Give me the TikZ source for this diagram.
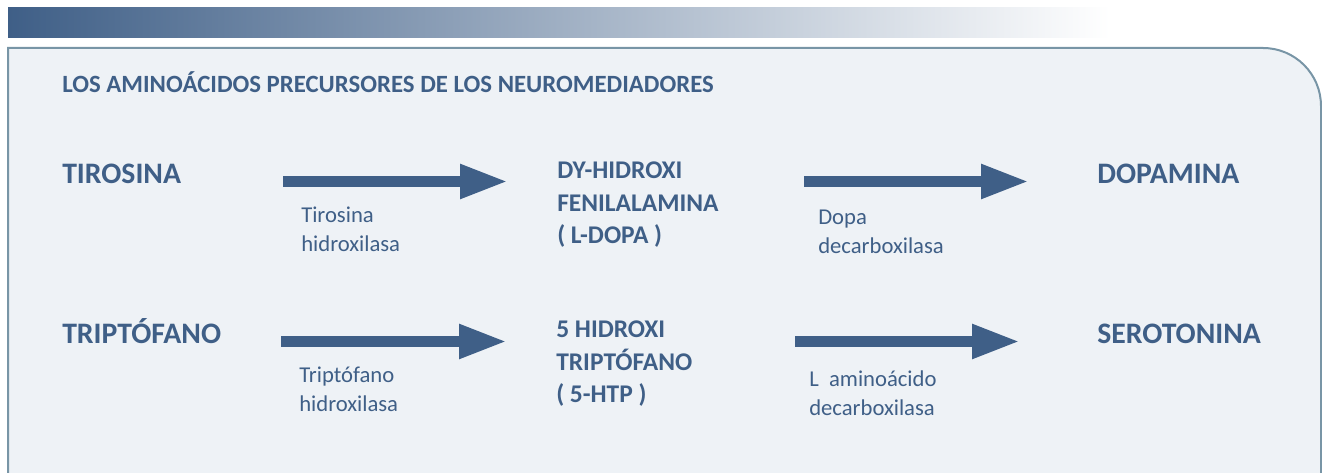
\documentclass[tikz,border=0pt]{standalone}
\usepackage{fontspec}
\setmainfont{Carlito}
\usetikzlibrary{arrows.meta}
\definecolor{inkblue}{HTML}{3F5F87}
\definecolor{panelfill}{HTML}{EEF2F6}
\definecolor{panelline}{HTML}{7895A6}

\begin{document}
\begin{tikzpicture}[x=0.75pt,y=-0.75pt,
    txt/.style={text=inkblue, anchor=base west, inner sep=0pt},
    heading/.style={txt, font=\bfseries\fontsize{18.6}{21}\selectfont},
    amino/.style={txt, font=\bfseries\fontsize{22.3}{26}\selectfont},
    middle/.style={txt, align=left, font=\bfseries\fontsize{19.1}{24.4}\selectfont},
    enzyme/.style={txt, align=left, font=\fontsize{17}{21.75}\selectfont},
    flow/.style={draw=inkblue, line width=8.25pt, -{Triangle[length=36pt,width=24pt]}}]
        \useasboundingbox (0,0) rectangle (1322,473);

        % Top bar and panel
        \shade[left color=inkblue, right color=white] (8,8) rectangle (1110,38);
        \draw[panelline, line width=1.5pt, fill=panelfill]
            (8,490) -- (8,48) -- (1263,48) arc[start angle=-90, end angle=0, radius=58] -- (1321,490);

        % Title
        \node[heading] (title) at (62,93) {LOS AMINOÁCIDOS PRECURSORES DE LOS NEUROMEDIADORES};

        % Amino acids and products
        \node[amino] (tiro) at (62,184) {TIROSINA};
        \node[amino] (dopa) at (1097,184) {DOPAMINA};
        \node[amino] (tript) at (62,344) {TRIPTÓFANO};
        \node[amino] (sero) at (1097,344) {SEROTONINA};

        % Intermediates (anchored at last line)
        \node[middle] (ldopa) at (557,244) {DY-HIDROXI\\FENILALAMINA\\( L-DOPA )};
        \node[middle] (htp) at (556,403) {5 HIDROXI\\TRIPTÓFANO\\( 5-HTP )};

        % Enzymes
        \node[enzyme] (tirhid) at (301,252) {Tirosina\\hidroxilasa};
        \node[enzyme] (dopadec) at (818,254) {Dopa\\decarboxilasa};
        \node[enzyme] (trihid) at (299,412) {Triptófano\\hidroxilasa};
        \node[enzyme] (aadec) at (809,416) {L\ \ aminoácido\\decarboxilasa};

        % Arrows
        \coordinate (a1) at (283,181.5);
        \coordinate (b1) at (508,181.5);
        \coordinate (a2) at (804,181.5);
        \coordinate (b2) at (1029,181.5);
        \coordinate (a3) at (281,341.5);
        \coordinate (b3) at (507,341.5);
        \coordinate (a4) at (795,341.5);
        \coordinate (b4) at (1020,341.5);
        \draw[flow] (a1) -- (b1);
        \draw[flow] (a2) -- (b2);
        \draw[flow] (a3) -- (b3);
        \draw[flow] (a4) -- (b4);
    \end{tikzpicture}
\end{document}
